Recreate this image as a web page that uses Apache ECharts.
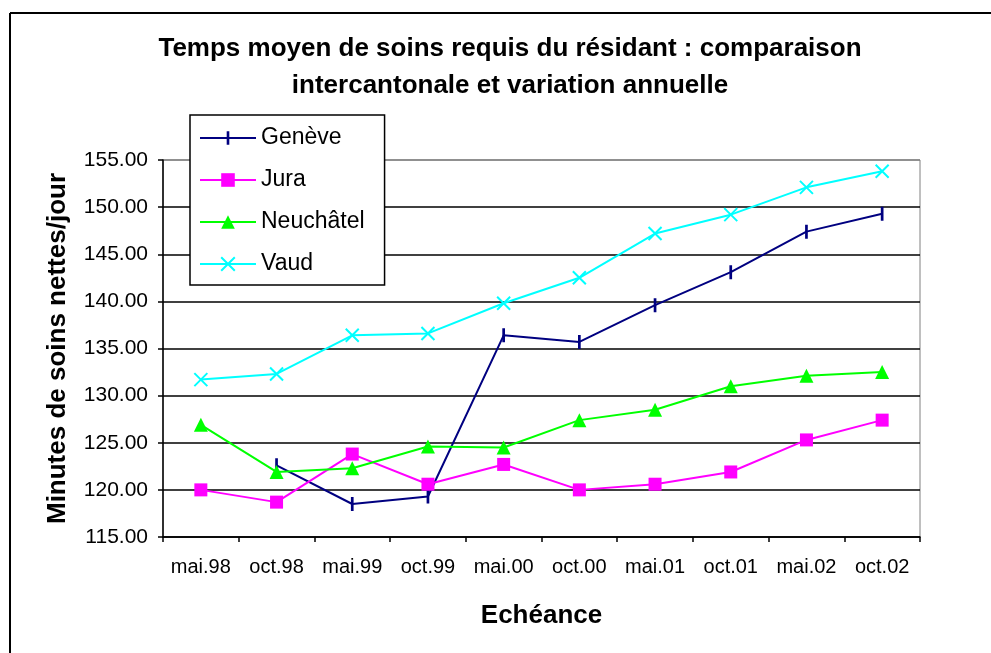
<!DOCTYPE html>
<html>
<head>
<meta charset="utf-8">
<script src="https://cdn.jsdelivr.net/npm/echarts@6/dist/echarts.min.js"></script>
<style>html,body{margin:0;padding:0;background:#fff;}#c{width:991px;height:653px;}</style>
</head>
<body>
<div id="c"></div>
<script>
var categories = ['mai.98','oct.98','mai.99','oct.99','mai.00','oct.00','mai.01','oct.01','mai.02','oct.02'];
var geneve    = [null, 122.6, 118.5, 119.3, 136.4, 135.7, 139.6, 143.1, 147.4, 149.3];
var jura      = [120.0, 118.7, 123.8, 120.6, 122.7, 120.0, 120.6, 121.9, 125.3, 127.4];
var neuchatel = [126.9, 121.9, 122.3, 124.6, 124.5, 127.4, 128.5, 131.0, 132.1, 132.5];
var vaud      = [131.7, 132.3, 136.4, 136.6, 139.8, 142.5, 147.2, 149.2, 152.1, 153.8];
var yTicks = {min: 115, max: 155, interval: 5};

var FONT = 'Liberation Sans, Arial, sans-serif';
var chart = echarts.init(document.getElementById('c'), null, {renderer: 'canvas'});
var gridColors = ['#000','#000','#000','#000','#000','#000','#000','#000','#808080'];
// vertical tick marker inside a square box (tiny invisible corner points fix the bounding box)
var TICK = 'path://M0,0 L0.01,0 L0,0.01 Z M13,13 L12.99,13 L13,12.99 Z M5.25,0 L7.75,0 L7.75,13 L5.25,13 Z';

function mk(name, data, color, symbol, size, extra) {
  var s = {
    name: name, type: 'line', data: data,
    symbol: symbol, symbolSize: size,
    showAllSymbol: true,
    lineStyle: {color: color, width: 2},
    itemStyle: {color: color, borderColor: color, borderWidth: 0},
    emphasis: {disabled: true},
    animation: false
  };
  if (extra) for (var k in extra) s[k] = extra[k];
  return s;
}

var option = {
  backgroundColor: '#fff',
  animation: false,
  title: {
    text: 'Temps moyen de soins requis du résidant : comparaison\nintercantonale et variation annuelle',
    left: 510, top: 30, textAlign: 'center', padding: 0,
    textStyle: {fontFamily: FONT, fontWeight: 'bold', fontSize: 26, lineHeight: 37, color: '#000'}
  },
  legend: {
    orient: 'vertical', left: 190, top: 115,
    padding: [11, 20, 9, 9],
    itemWidth: 56, itemHeight: 17, itemGap: 18,
    backgroundColor: '#fff', borderColor: '#000', borderWidth: 1.5, borderRadius: 0,
    textStyle: {fontFamily: FONT, fontSize: 23, color: '#000', lineHeight: 24},
    data: ['Genève','Jura','Neuchâtel','Vaud']
  },
  grid: {left: 163, right: 71, top: 160, bottom: 116, show: true, borderColor: '#808080', borderWidth: 1, backgroundColor: 'transparent'},
  xAxis: {
    type: 'category', data: categories, boundaryGap: true,
    name: 'Echéance', nameLocation: 'middle', nameGap: 66,
    nameTextStyle: {fontFamily: FONT, fontWeight: 'bold', fontSize: 26, color: '#000'},
    axisLine: {lineStyle: {color: '#000', width: 1.5}},
    axisTick: {show: true, interval: 0, length: 5, inside: false, lineStyle: {color: '#000', width: 1.5}},
    axisLabel: {interval: 0, margin: 20, fontFamily: FONT, fontSize: 20, color: '#000'},
    splitLine: {show: false}
  },
  yAxis: {
    type: 'value', min: yTicks.min, max: yTicks.max, interval: yTicks.interval,
    name: 'Minutes de soins nettes/jour', nameLocation: 'middle', nameGap: 92, nameRotate: 90,
    nameTextStyle: {fontFamily: FONT, fontWeight: 'bold', fontSize: 26, color: '#000'},
    axisLine: {show: true, lineStyle: {color: '#000', width: 1.5}},
    axisTick: {show: true, length: 5, inside: false, lineStyle: {color: '#000', width: 1.5}},
    axisLabel: {margin: 15, fontFamily: FONT, fontSize: 21, color: '#000',
      formatter: function (v) { return v.toFixed(2); }},
    splitLine: {show: true, lineStyle: {color: gridColors, width: 1.5}}
  },
  graphic: [
    {type: 'line', shape: {x1: 10, y1: 13, x2: 991, y2: 13}, style: {stroke: '#000', lineWidth: 2}, silent: true},
    {type: 'line', shape: {x1: 10, y1: 13, x2: 10, y2: 653}, style: {stroke: '#000', lineWidth: 2}, silent: true}
  ],
  series: [
    mk('Genève', geneve, '#000080', TICK, 14),
    mk('Jura', jura, '#FF00FF', 'rect', 13),
    mk('Neuchâtel', neuchatel, '#00FF00', 'triangle', 14),
    mk('Vaud', vaud, '#00FFFF', 'path://M0,0 L10,10 M10,0 L0,10', 13,
       {itemStyle: {color: 'transparent', borderColor: '#00FFFF', borderWidth: 2}})
  ]
};
chart.setOption(option);
</script>
</body>
</html>
